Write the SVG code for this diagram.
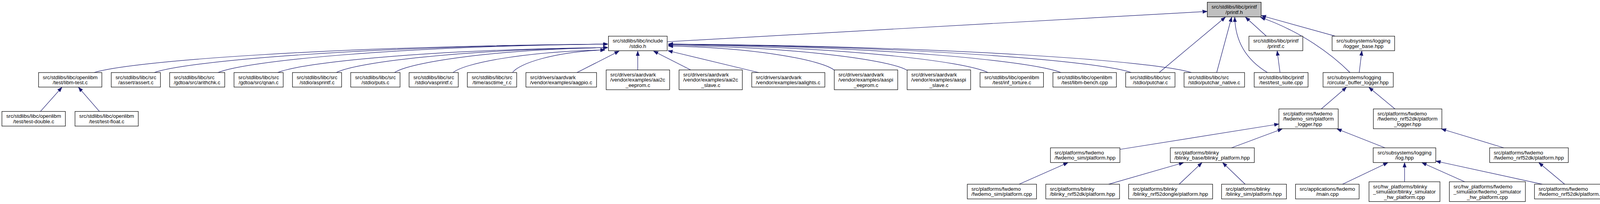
<svg xmlns="http://www.w3.org/2000/svg" width="4135" height="523" viewBox="0 0 4135 523">
<style>
.n rect{fill:#fff;stroke:#000;stroke-width:1.2}
.n.g rect{fill:#bfbfbf}
.n text{font-family:"Liberation Sans",Arial,Helvetica,sans-serif;font-size:13.3px;fill:#000}
.c{text-anchor:middle}
.e path{fill:none;stroke:#191970;stroke-width:1.2;marker-end:url(#a)}
</style>
<defs>
<marker id="a" markerUnits="userSpaceOnUse" markerWidth="13" markerHeight="10" refX="12" refY="4.5" orient="auto">
<path d="M0,0 L12,4.5 L0,9 z" fill="#191970" stroke="#191970" stroke-width="0.8"/>
</marker>
</defs>
<rect width="4135" height="523" fill="#fff"/>
<g id="edges" class="e">
<path d="M1708,107 L3090.6,29.3"/>
<path d="M241,186 C333,156.8 832.8,118.8 1556,113"/>
<path d="M395,186 C476.3,156.8 917.5,118.8 1556,113"/>
<path d="M558,186 C627.9,156.8 1007.1,118.8 1556,113"/>
<path d="M711,186 C770.2,160.4 1091.3,127.1 1556,122"/>
<path d="M861,186 C909.7,160.4 1173.8,127.1 1556,122"/>
<path d="M1010,186 C1048.2,160.4 1255.7,127.1 1556,122"/>
<path d="M1160,186 C1187.2,162.8 1335,132.6 1549,128"/>
<path d="M1312,186 C1328.6,162.8 1418.7,132.6 1549,128"/>
<path d="M1477,186 L1585,131"/>
<path d="M1632.6,179.3 L1632.6,131"/>
<path d="M1768,179.3 L1673,131"/>
<path d="M1942.4,186 L1710,130"/>
<path d="M2136,180 C2106.3,155.2 1944.8,123 1711,118"/>
<path d="M2322,180 C2279.2,154.4 2047,121.1 1711,116"/>
<path d="M2529,186 C2471.7,157.2 2160.9,119.8 1711,114"/>
<path d="M2716,186 C2645.7,156.8 2263.8,118.8 1711,113"/>
<path d="M2896,186 C2813,156.8 2362.8,118.8 1711,113"/>
<path d="M3050,186 C2956.3,156.8 2447.5,118.8 1711,113"/>
<path d="M2967.4,186 L3137,44"/>
<path d="M3114.7,186 L3153,44"/>
<path d="M3244.6,186 C3185,150 3162,100 3161,44"/>
<path d="M3242,92.7 L3188.4,44"/>
<path d="M3456,186 C3410,140 3330,80 3227,44.5"/>
<path d="M3418.2,92.7 L3229,40"/>
<path d="M3276.8,186 L3269.6,130.5"/>
<path d="M3479.6,186 L3486.3,130.5"/>
<path d="M3382.5,279.3 L3447,223.8"/>
<path d="M3571,279.3 L3504.2,223.8"/>
<path d="M2867,383 L3274,318"/>
<path d="M3152.6,379 L3282.6,330.5"/>
<path d="M3545.7,379 L3422.7,330.5"/>
<path d="M3850,379 L3690,330.5"/>
<path d="M2609,472.3 L2734,417"/>
<path d="M2838,472.3 L3030,417"/>
<path d="M3018.7,472.3 L3077,417"/>
<path d="M3187.5,472.3 L3130,417"/>
<path d="M3437,472.3 L3553,417"/>
<path d="M3595.7,466 L3595.7,417"/>
<path d="M3749.7,466 L3640,417"/>
<path d="M3948.4,472.3 L3676,413"/>
<path d="M4005.5,472.3 L3939.4,417"/>
<path d="M103.6,285.7 L158.5,223.8"/>
<path d="M254.5,285.7 L200.9,223.8"/>
</g>
<g id="n_printf_h" class="n g"><rect x="3090.6" y="5.7" width="137.9" height="37.6"/><text class="c" x="3159.5" y="22.2">src/stdlibs/libc/printf</text><text class="c" x="3159.5" y="35.6">/printf.h</text></g>
<g id="n_stdio_h" class="n"><rect x="1557.6" y="92.7" width="150.4" height="37.3"/><text class="c" x="1632.8" y="109.2">src/stdlibs/libc/include</text><text class="c" x="1632.8" y="122.6">/stdio.h</text></g>
<g id="n_printf_c" class="n"><rect x="3197.3" y="92.7" width="137.9" height="37.3"/><text class="c" x="3266.2" y="109.2">src/stdlibs/libc/printf</text><text class="c" x="3266.2" y="122.6">/printf.c</text></g>
<g id="n_logger_base" class="n"><rect x="3410.2" y="92.7" width="160.1" height="37.3"/><text class="c" x="3490.2" y="109.2">src/subsystems/logging</text><text class="c" x="3490.2" y="122.6">/logger_base.hpp</text></g>
<g id="n_libm_test" class="n"><rect x="98.7" y="186" width="162" height="37.3"/><text class="c" x="179.7" y="202.5">src/stdlibs/libc/openlibm</text><text class="c" x="179.7" y="215.9">/test/libm-test.c</text></g>
<g id="n_assert" class="n"><rect x="284.8" y="186" width="125.9" height="37.3"/><text class="c" x="347.8" y="202.5">src/stdlibs/libc/src</text><text class="c" x="347.8" y="215.9">/assert/assert.c</text></g>
<g id="n_arithchk" class="n"><rect x="434.4" y="186" width="141" height="37.3"/><text x="444.9" y="202.5">src/stdlibs/libc/src</text><text x="444.9" y="215.9">/gdtoa/src/arithchk.c</text></g>
<g id="n_qnan" class="n"><rect x="599.1" y="186" width="125.9" height="37.3"/><text class="c" x="662" y="202.5">src/stdlibs/libc/src</text><text class="c" x="662" y="215.9">/gdtoa/src/qnan.c</text></g>
<g id="n_asprintf" class="n"><rect x="748.7" y="186" width="125.8" height="37.3"/><text class="c" x="811.6" y="202.5">src/stdlibs/libc/src</text><text class="c" x="811.6" y="215.9">/stdio/asprintf.c</text></g>
<g id="n_puts" class="n"><rect x="897.8" y="186" width="126.3" height="37.3"/><text class="c" x="961" y="202.5">src/stdlibs/libc/src</text><text class="c" x="961" y="215.9">/stdio/puts.c</text></g>
<g id="n_vasprintf" class="n"><rect x="1047.3" y="186" width="125.9" height="37.3"/><text class="c" x="1110.3" y="202.5">src/stdlibs/libc/src</text><text class="c" x="1110.3" y="215.9">/stdio/vasprintf.c</text></g>
<g id="n_asctime_r" class="n"><rect x="1196.4" y="186" width="126.3" height="37.3"/><text class="c" x="1259.6" y="202.5">src/stdlibs/libc/src</text><text class="c" x="1259.6" y="215.9">/time/asctime_r.c</text></g>
<g id="n_aagpio" class="n"><rect x="1346.4" y="186" width="180.8" height="37.3"/><text x="1356.9" y="202.5">src/drivers/aardvark</text><text x="1356.9" y="215.9">/vendor/examples/aagpio.c</text></g>
<g id="n_aai2c_eeprom" class="n"><rect x="1551.8" y="179.3" width="162.5" height="50.7"/><text x="1562.3" y="196">src/drivers/aardvark</text><text x="1562.3" y="209.4">/vendor/examples/aai2c</text><text class="c" x="1633" y="222.8">_eeprom.c</text></g>
<g id="n_aai2c_slave" class="n"><rect x="1738.4" y="179.3" width="162" height="50.7"/><text x="1748.9" y="196">src/drivers/aardvark</text><text x="1748.9" y="209.4">/vendor/examples/aai2c</text><text class="c" x="1819.4" y="222.8">_slave.c</text></g>
<g id="n_aalights" class="n"><rect x="1924.5" y="186" width="187.1" height="37.3"/><text x="1935" y="202.5">src/drivers/aardvark</text><text x="1935" y="215.9">/vendor/examples/aalights.c</text></g>
<g id="n_aaspi_eeprom" class="n"><rect x="2135.7" y="179.3" width="162.5" height="50.7"/><text x="2146.2" y="196">src/drivers/aardvark</text><text x="2146.2" y="209.4">/vendor/examples/aaspi</text><text class="c" x="2217" y="222.8">_eeprom.c</text></g>
<g id="n_aaspi_slave" class="n"><rect x="2322.3" y="179.3" width="162.5" height="50.7"/><text x="2332.8" y="196">src/drivers/aardvark</text><text x="2332.8" y="209.4">/vendor/examples/aaspi</text><text class="c" x="2403.6" y="222.8">_slave.c</text></g>
<g id="n_inf_torture" class="n"><rect x="2508.9" y="186" width="162.5" height="37.3"/><text class="c" x="2590.2" y="202.5">src/stdlibs/libc/openlibm</text><text class="c" x="2590.2" y="215.9">/test/inf_torture.c</text></g>
<g id="n_libm_bench" class="n"><rect x="2695.5" y="186" width="162.5" height="37.3"/><text class="c" x="2776.8" y="202.5">src/stdlibs/libc/openlibm</text><text class="c" x="2776.8" y="215.9">/test/libm-bench.cpp</text></g>
<g id="n_putchar" class="n"><rect x="2881.7" y="186" width="126.3" height="37.3"/><text class="c" x="2944.9" y="202.5">src/stdlibs/libc/src</text><text class="c" x="2944.9" y="215.9">/stdio/putchar.c</text></g>
<g id="n_putchar_native" class="n"><rect x="3031.2" y="186" width="154.9" height="37.3"/><text x="3041.7" y="202.5">src/stdlibs/libc/src</text><text x="3041.7" y="215.9">/stdio/putchar_native.c</text></g>
<g id="n_test_suite" class="n"><rect x="3210.7" y="186" width="137.9" height="37.3"/><text class="c" x="3279.7" y="202.5">src/stdlibs/libc/printf</text><text class="c" x="3279.7" y="215.9">/test/test_suite.cpp</text></g>
<g id="n_circular_buffer" class="n"><rect x="3387" y="186" width="179.7" height="37.3"/><text x="3397.5" y="202.5">src/subsystems/logging</text><text x="3397.5" y="215.9">/circular_buffer_logger.hpp</text></g>
<g id="n_test_double" class="n"><rect x="4.9" y="285.7" width="162.5" height="37.6"/><text class="c" x="86.1" y="302.2">src/stdlibs/libc/openlibm</text><text class="c" x="86.1" y="315.6">/test/test-double.c</text></g>
<g id="n_test_float" class="n"><rect x="192" y="285.7" width="162" height="37.6"/><text class="c" x="273" y="302.2">src/stdlibs/libc/openlibm</text><text class="c" x="273" y="315.6">/test/test-float.c</text></g>
<g id="n_sim_logger" class="n"><rect x="3274" y="279.3" width="151.8" height="50.7"/><text x="3284.5" y="296">src/platforms/fwdemo</text><text x="3284.5" y="309.4">/fwdemo_sim/platform</text><text class="c" x="3349.9" y="322.8">_logger.hpp</text></g>
<g id="n_nrf_logger" class="n"><rect x="3515.8" y="279.3" width="175.4" height="50.7"/><text x="3526.3" y="296">src/platforms/fwdemo</text><text x="3526.3" y="309.4">/fwdemo_nrf52dk/platform</text><text class="c" x="3603.5" y="322.8">_logger.hpp</text></g>
<g id="n_sim_platform_hpp" class="n"><rect x="2689.2" y="379" width="177.8" height="37.7"/><text x="2699.7" y="395.5">src/platforms/fwdemo</text><text x="2699.7" y="408.9">/fwdemo_sim/platform.hpp</text></g>
<g id="n_blinky_platform" class="n"><rect x="2996" y="379" width="215.1" height="37.7"/><text x="3006.5" y="395.5">src/platforms/blinky</text><text x="3006.5" y="408.9">/blinky_base/blinky_platform.hpp</text></g>
<g id="n_log_hpp" class="n"><rect x="3515.4" y="379" width="160.2" height="37.7"/><text class="c" x="3595.5" y="395.5">src/subsystems/logging</text><text class="c" x="3595.5" y="408.9">/log.hpp</text></g>
<g id="n_nrf_platform_hpp" class="n"><rect x="3813.5" y="379" width="201.4" height="37.7"/><text x="3824" y="395.5">src/platforms/fwdemo</text><text x="3824" y="408.9">/fwdemo_nrf52dk/platform.hpp</text></g>
<g id="n_sim_platform_cpp" class="n"><rect x="2476.3" y="472.3" width="177.2" height="37.7"/><text x="2486.8" y="488.8">src/platforms/fwdemo</text><text x="2486.8" y="502.2">/fwdemo_sim/platform.cpp</text></g>
<g id="n_blinky_nrf52dk" class="n"><rect x="2677.2" y="472.3" width="188.8" height="37.7"/><text x="2687.7" y="488.8">src/platforms/blinky</text><text x="2687.7" y="502.2">/blinky_nrf52dk/platform.hpp</text></g>
<g id="n_blinky_dongle" class="n"><rect x="2889.3" y="472.3" width="215.1" height="37.7"/><text x="2899.8" y="488.8">src/platforms/blinky</text><text x="2899.8" y="502.2">/blinky_nrf52dongle/platform.hpp</text></g>
<g id="n_blinky_sim" class="n"><rect x="3127.2" y="472.3" width="166.1" height="37.7"/><text x="3137.7" y="488.8">src/platforms/blinky</text><text x="3137.7" y="502.2">/blinky_sim/platform.hpp</text></g>
<g id="n_main_cpp" class="n"><rect x="3316.5" y="472.3" width="162.9" height="37.7"/><text class="c" x="3398" y="488.8">src/applications/fwdemo</text><text class="c" x="3398" y="502.2">/main.cpp</text></g>
<g id="n_blinky_hw" class="n"><rect x="3504.6" y="466" width="181.7" height="50.7"/><text x="3515.1" y="482.7">src/hw_platforms/blinky</text><text x="3515.1" y="496.1">_simulator/blinky_simulator</text><text class="c" x="3595.5" y="509.5">_hw_platform.cpp</text></g>
<g id="n_fwdemo_hw" class="n"><rect x="3710.4" y="466" width="194.6" height="50.7"/><text x="3720.9" y="482.7">src/hw_platforms/fwdemo</text><text x="3720.9" y="496.1">_simulator/fwdemo_simulator</text><text class="c" x="3807.7" y="509.5">_hw_platform.cpp</text></g>
<g id="n_nrf_platform_cpp" class="n"><rect x="3928.3" y="472.3" width="200.8" height="37.7"/><text x="3938.8" y="488.8">src/platforms/fwdemo</text><text x="3938.8" y="502.2">/fwdemo_nrf52dk/platform.cpp</text></g>
</svg>
